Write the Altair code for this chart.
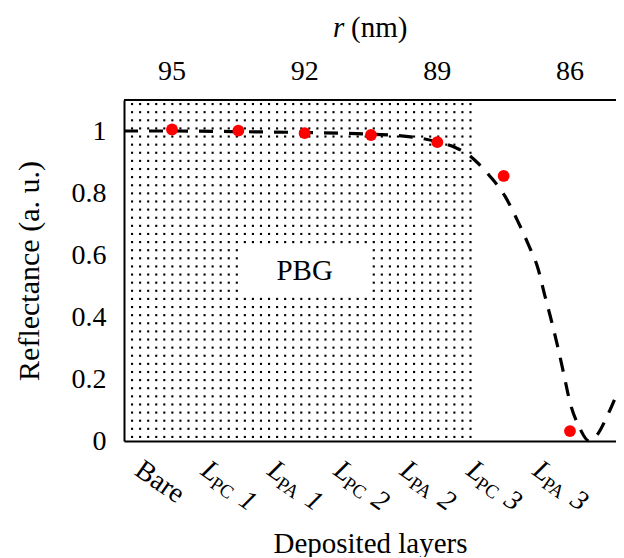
import altair as alt
import pandas as pd

# ---------------- data ----------------
layer_index = [0, 1, 2, 3, 4, 5, 6]
layer_main = ["Bare", "L", "L", "L", "L", "L", "L"]
layer_sub = ["", "PC", "PA", "PC", "PA", "PC", "PA"]
layer_num = ["", "1", "1", "2", "2", "3", "3"]
reflectance = [1.005, 1.001, 0.993, 0.987, 0.964, 0.855, 0.032]

curve_index = [-0.724, 0.0, 1.0, 2.0, 2.985, 3.74, 4.0, 4.27, 4.45, 4.57, 4.79,
               5.02, 5.2, 5.37, 5.52, 5.62, 5.73, 5.82, 5.91, 6.0, 6.14, 6.29,
               6.41, 6.56, 6.694]
curve_reflectance = [1.0, 1.0, 0.998, 0.995, 0.99, 0.977, 0.965, 0.947, 0.926,
                     0.905, 0.855, 0.79, 0.715, 0.635, 0.555, 0.47, 0.38, 0.30,
                     0.213, 0.125, 0.045, 0.0, 0.02, 0.08, 0.145]

r_tick_index = [0, 2, 4, 6]
r_tick_labels = ["95", "92", "89", "86"]

pbg_label = ["PBG"]
top_title_parts = ["r", "(nm)"]

# ---------------- layout constants ----------------
XMIN, XMAX = -0.724, 6.694
YMIN, YMAX = 0.0, 1.1
PBG_END = 4.5
PBG_BOX_X = (1.03, 2.96)
PBG_BOX_Y = (0.465, 0.64)
PBG_POS = (2.0, 0.55)
NCOL, NROW = 43, 42
W, H = 492, 341
FONT = "Liberation Serif"

x_scale = alt.Scale(domain=[XMIN, XMAX], nice=False, zero=False)
y_scale = alt.Scale(domain=[YMIN, YMAX], nice=False, zero=False)

X_AXIS = alt.Axis(orient="bottom", labels=False, ticks=False, grid=False,
                  domainColor="black", domainWidth=2,
                  title="Deposited layers", titleFontSize=29, titlePadding=88)
Y_AXIS = alt.Axis(orient="left", values=[0, 0.2, 0.4, 0.6, 0.8, 1.0],
                  format="~g", ticks=False, grid=False,
                  domainColor="black", domainWidth=2,
                  labelFontSize=28, labelPadding=18,
                  title="Reflectance (a. u.)", titleFontSize=30, titlePadding=27)


def X(field):
    return alt.X(field, scale=x_scale, axis=X_AXIS)


def Y(field):
    return alt.Y(field, scale=y_scale, axis=Y_AXIS)


points_df = pd.DataFrame({"idx": layer_index, "main": layer_main, "sub": layer_sub,
                          "num": layer_num, "R": reflectance})
curve_df = pd.DataFrame({"idx": curve_index, "R": curve_reflectance})
rticks_df = pd.DataFrame({"idx": r_tick_index, "lab": r_tick_labels})

# ---------------- dotted PBG texture ----------------
xstep = (PBG_END - XMIN) / NCOL
ystep = (YMAX - YMIN) / NROW
dots = alt.Chart(alt.sequence(0, NCOL * NROW, as_="i")).transform_calculate(
    idx=f"{XMIN} + ((datum.i % {NCOL}) + 1) * {xstep}",
    R=f"(floor(datum.i / {NCOL}) + 0.5) * {ystep}",
).transform_filter(
    f"!(datum.idx > {PBG_BOX_X[0]} && datum.idx < {PBG_BOX_X[1]} && "
    f"datum.R > {PBG_BOX_Y[0]} && datum.R < {PBG_BOX_Y[1]})"
).mark_square(size=4.5, color="black", opacity=1).encode(
    x=X("idx:Q"), y=Y("R:Q"),
)

# ---------------- dashed curve ----------------
curve = alt.Chart(curve_df).mark_line(
    color="black", strokeWidth=3.2, strokeDash=[14, 11], interpolate="monotone", clip=True
).encode(x=X("idx:Q"), y=Y("R:Q"))

# ---------------- red points ----------------
pts = alt.Chart(points_df).mark_circle(color="#ff0000", size=140, opacity=1).encode(
    x=X("idx:Q"), y=Y("R:Q"),
)

# ---------------- top r axis (border + labels) ----------------
top_border = alt.Chart(rticks_df).mark_rule(color="black", strokeWidth=2).encode(
    x=alt.value(0), x2=alt.value(W), y=alt.value(0)
)
top_labels = alt.Chart(rticks_df).mark_text(
    font=FONT, fontSize=28, color="black", baseline="middle", align="center"
).encode(x=X("idx:Q"), y=alt.value(-28), text="lab:N")

# ---------------- PBG label ----------------
pbg = alt.Chart(pd.DataFrame({"t": pbg_label, "idx": [PBG_POS[0]], "R": [PBG_POS[1]]})).mark_text(
    font=FONT, fontSize=29, color="black", baseline="middle", align="center"
).encode(x=X("idx:Q"), y=Y("R:Q"), text="t:N")

# ---------------- rotated category labels ----------------
ANG = 35
DX0, DY0 = -13, 49
bare = alt.Chart(points_df).transform_filter("datum.sub == ''").mark_text(
    font=FONT, fontSize=28, angle=ANG, align="left", baseline="alphabetic",
    dx=DX0, dy=DY0, color="black"
).encode(x=X("idx:Q"), y=alt.value(H), text="main:N")

lmain = alt.Chart(points_df).transform_filter("datum.sub != ''").mark_text(
    font=FONT, fontSize=28, fontStyle="italic", angle=ANG, align="left",
    baseline="alphabetic", dx=DX0, dy=DY0, color="black"
).encode(x=X("idx:Q"), y=alt.value(H), text="main:N")

lsub = alt.Chart(points_df).transform_filter("datum.sub != ''").mark_text(
    font=FONT, fontSize=19, angle=ANG, align="left",
    baseline="alphabetic", dx=DX0 + 15, dy=DY0 + 5, color="black"
).encode(x=X("idx:Q"), y=alt.value(H), text="sub:N")

lnum = alt.Chart(points_df).transform_filter("datum.sub != ''").mark_text(
    font=FONT, fontSize=28, fontStyle="italic", angle=ANG, align="left",
    baseline="alphabetic", dx=DX0 + 48, dy=DY0 + 3, color="black"
).encode(x=X("idx:Q"), y=alt.value(H), text="num:N")

# ---------------- top title "r (nm)" ----------------
title_df = pd.DataFrame({"t": top_title_parts})
t_r = alt.Chart(title_df).transform_filter("datum.t == 'r'").mark_text(
    font=FONT, fontSize=29, fontStyle="italic", align="left", baseline="middle", color="black"
).encode(x=alt.value(209), y=alt.value(-72), text="t:N")
t_nm = alt.Chart(title_df).transform_filter("datum.t != 'r'").mark_text(
    font=FONT, fontSize=29, align="left", baseline="middle", color="black"
).encode(x=alt.value(227), y=alt.value(-72), text="t:N")

chart = alt.layer(dots, curve, pts, pbg, top_border, top_labels,
                  bare, lmain, lsub, lnum, t_r, t_nm).properties(
    width=W, height=H,
    autosize=alt.AutoSizeParams(type="none"),
    padding={"left": 116, "top": 92, "right": 0, "bottom": 116},
).configure_view(stroke=None).configure_axis(
    labelFont=FONT, titleFont=FONT, labelColor="black", titleColor="black",
    titleFontWeight="normal"
)

chart.save("out.html", embed_options={"renderer": "svg", "actions": False})
